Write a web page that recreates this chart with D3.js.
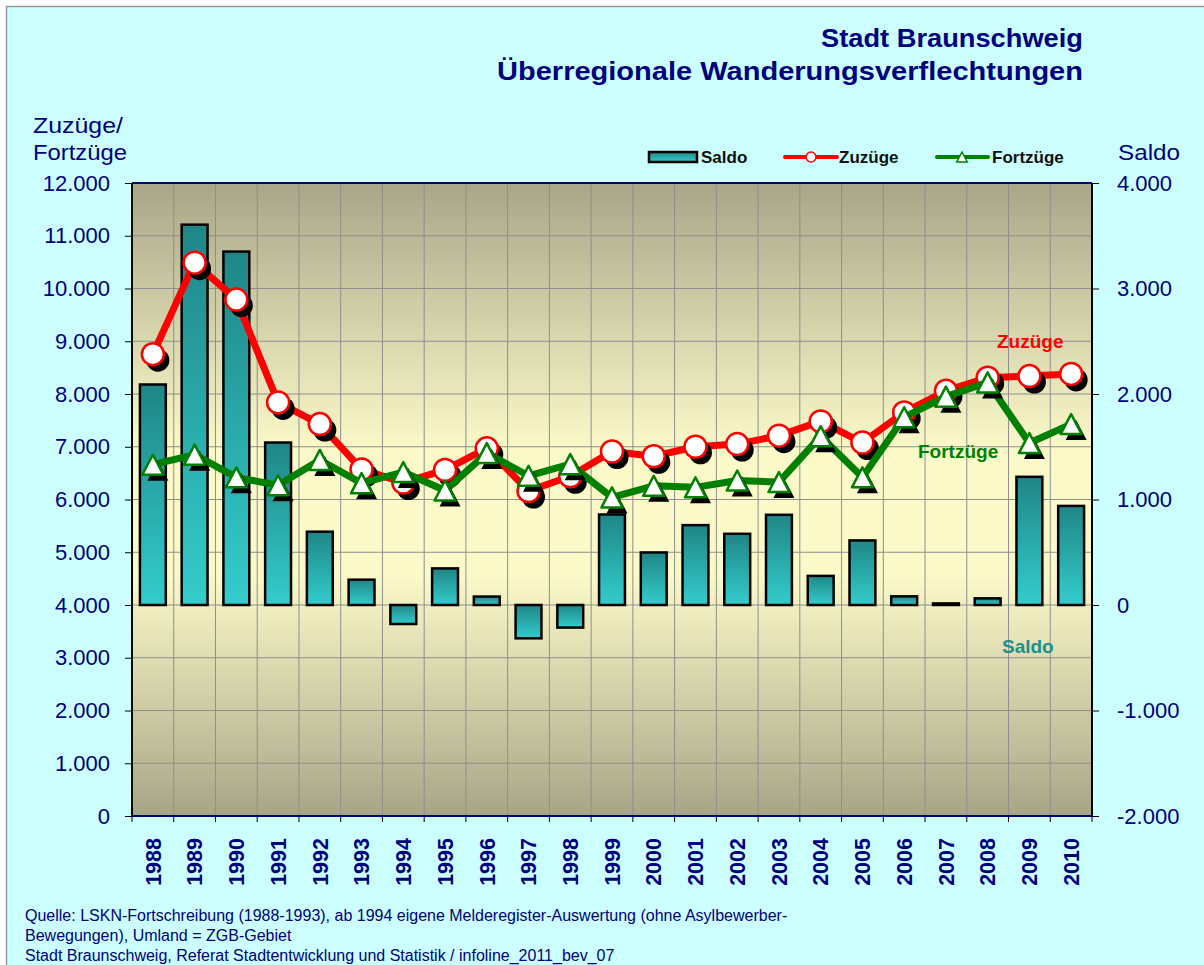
<!DOCTYPE html>
<html>
<head>
<meta charset="utf-8">
<script src="https://cdn.jsdelivr.net/npm/d3@7"></script>
<style>
  body { margin: 0; background: #fff; }
  svg { display: block; font-family: Arial, "Liberation Sans", sans-serif; }
</style>
</head>
<body>
<div id="chart"></div>
<script>
var years = ["1988", "1989", "1990", "1991", "1992", "1993", "1994", "1995", "1996", "1997", "1998", "1999",
    "2000", "2001", "2002", "2003", "2004", "2005", "2006", "2007", "2008", "2009", "2010"];
var zuzuege = [8755, 10490, 9790, 7840, 7430, 6570, 6320, 6560, 6970, 6160, 6440, 6910,
    6820, 7000, 7050, 7210, 7480, 7080, 7650, 8060, 8310, 8340, 8380];
var fortzuege = [6660, 6850, 6420, 6270, 6750, 6310, 6520, 6170, 6880, 6450, 6670, 6040,
    6260, 6230, 6360, 6330, 7200, 6420, 7560, 7950, 8220, 7070, 7430];
var saldo = [2090, 3605, 3350, 1540, 695, 240, -180, 347, 80, -316, -214, 858,
    498, 757, 675, 855, 276, 612, 82, 15, 63, 1215, 939];
var leftTicks = [0, 1000, 2000, 3000, 4000, 5000, 6000, 7000, 8000, 9000, 10000, 11000, 12000];
var rightTicks = [-2000, -1000, 0, 1000, 2000, 3000, 4000];

var W = 1204, H = 965,
    x0 = 132, x1 = 1092, y0 = 183, y1 = 816,
    navy = "#000080";

var de = d3.formatLocale({ decimal: ",", thousands: ".", grouping: [3], currency: ["", " €"], minus: "-" });
var fmt = de.format(",.0f");

var svg = d3.select("#chart").append("svg")
    .attr("width", W)
    .attr("height", H);

var defs = svg.append("defs");

var bg = defs.append("linearGradient").attr("id", "plotBg")
    .attr("x1", 0).attr("y1", 0).attr("x2", 0).attr("y2", 1);
bg.append("stop").attr("offset", "0%").attr("stop-color", "#a9a689");
bg.append("stop").attr("offset", "42%").attr("stop-color", "#fbf9c8");
bg.append("stop").attr("offset", "62%").attr("stop-color", "#fbf9c8");
bg.append("stop").attr("offset", "100%").attr("stop-color", "#a8a587");

var barGrad = defs.append("linearGradient").attr("id", "barGrad")
    .attr("x1", 0).attr("y1", 0).attr("x2", 0).attr("y2", 1);
barGrad.append("stop").attr("offset", "0%").attr("stop-color", "#1f8686");
barGrad.append("stop").attr("offset", "100%").attr("stop-color", "#34cccc");

// frame
svg.append("rect")
    .attr("x", 6.5).attr("y", 6.5)
    .attr("width", W).attr("height", H)
    .attr("fill", "#ccffff")
    .attr("stroke", "#9a9a9a")
    .attr("stroke-width", 1.5);

// scales
var x = d3.scaleBand()
    .domain(years)
    .range([x0, x1])
    .paddingInner(0.38)
    .paddingOuter(0.19);
var step = x.step();
var cx = function (d, i) { return x(years[i]) + x.bandwidth() / 2; };

var yL = d3.scaleLinear().domain([0, 12000]).range([y1, y0]);
var yR = d3.scaleLinear().domain([-2000, 4000]).range([y1, y0]);

// plot area
svg.append("rect")
    .attr("x", x0).attr("y", y0)
    .attr("width", x1 - x0).attr("height", y1 - y0)
    .attr("fill", "url(#plotBg)");

// grid
svg.append("g").selectAll("line")
    .data(leftTicks.slice(1, -1))
    .enter().append("line")
    .attr("x1", x0).attr("x2", x1)
    .attr("y1", function (d) { return yL(d); })
    .attr("y2", function (d) { return yL(d); })
    .attr("stroke", "#8e8e8e").attr("stroke-width", 1);

svg.append("g").selectAll("line")
    .data(d3.range(1, years.length))
    .enter().append("line")
    .attr("x1", function (i) { return x0 + i * step; })
    .attr("x2", function (i) { return x0 + i * step; })
    .attr("y1", y0).attr("y2", y1)
    .attr("stroke", "#8e8e8e").attr("stroke-width", 1);

// axes
var axL = svg.append("g")
    .attr("transform", "translate(" + x0 + ",0)")
    .call(d3.axisLeft(yL).tickValues(leftTicks).tickSize(7).tickPadding(15).tickFormat(fmt));
var axR = svg.append("g")
    .attr("transform", "translate(" + x1 + ",0)")
    .call(d3.axisRight(yR).tickValues(rightTicks).tickSize(7).tickPadding(18).tickFormat(fmt));
[axL, axR].forEach(function (ax) {
    ax.select(".domain").remove();
    ax.selectAll("line").attr("stroke", "#000");
    ax.selectAll("text")
        .attr("fill", navy)
        .attr("font-size", 22)
        .attr("font-family", "Arial, 'Liberation Sans', sans-serif");
});

var axB = svg.append("g")
    .attr("transform", "translate(0," + y1 + ")")
    .call(d3.axisBottom(x).tickSize(0).tickPadding(0));
axB.select(".domain").remove();
axB.selectAll("text")
    .attr("fill", navy)
    .attr("font-size", 21.5)
    .attr("font-weight", "bold")
    .attr("font-family", "Arial, 'Liberation Sans', sans-serif")
    .attr("text-anchor", "end")
    .attr("dy", "0.36em")
    .attr("transform", "translate(0,22) rotate(-90)");

svg.append("g").selectAll("line")
    .data(d3.range(0, years.length + 1))
    .enter().append("line")
    .attr("x1", function (i) { return x0 + i * step; })
    .attr("x2", function (i) { return x0 + i * step; })
    .attr("y1", y1).attr("y2", y1 + 6)
    .attr("stroke", "#000").attr("stroke-width", 1);

// plot border
svg.append("line").attr("x1", x0).attr("x2", x1).attr("y1", y0).attr("y2", y0)
    .attr("stroke", navy).attr("stroke-width", 2);
svg.append("line").attr("x1", x0).attr("x2", x1).attr("y1", y1).attr("y2", y1)
    .attr("stroke", navy).attr("stroke-width", 2);
svg.append("line").attr("x1", x0).attr("x2", x0).attr("y1", y0).attr("y2", y1)
    .attr("stroke", "#000").attr("stroke-width", 2);
svg.append("line").attr("x1", x1).attr("x2", x1).attr("y1", y0).attr("y2", y1)
    .attr("stroke", "#000").attr("stroke-width", 2);

// saldo bars
svg.append("g").selectAll("rect")
    .data(saldo)
    .enter().append("rect")
    .attr("x", function (d, i) { return x(years[i]); })
    .attr("width", x.bandwidth())
    .attr("y", function (d) { return Math.min(yR(d), yR(0)); })
    .attr("height", function (d) { return Math.max(Math.abs(yR(d) - yR(0)), 1); })
    .attr("fill", "url(#barGrad)")
    .attr("stroke", "#000")
    .attr("stroke-width", 2.5);

// lines with markers
var tri = function (s) {
    return "M0," + (-s) + "L" + (s * 1.05) + "," + s + "L" + (-s * 1.05) + "," + s + "Z";
};

function drawSeries(values, color, marker) {
    var line = d3.line()
        .x(function (d, i) { return cx(d, i); })
        .y(function (d) { return yL(d); });
    var g = svg.append("g");
    g.append("path")
        .datum(values)
        .attr("d", line)
        .attr("fill", "none")
        .attr("stroke", color)
        .attr("stroke-width", 7)
        .attr("stroke-linejoin", "round");

    var shadows = g.append("g").selectAll("path")
        .data(values).enter();
    var marks = g.append("g").selectAll("path")
        .data(values).enter();

    if (marker === "circle") {
        shadows.append("circle")
            .attr("cx", function (d, i) { return cx(d, i) + 5; })
            .attr("cy", function (d) { return yL(d) + 6; })
            .attr("r", 11.5)
            .attr("fill", "#000");
        marks.append("circle")
            .attr("cx", function (d, i) { return cx(d, i); })
            .attr("cy", function (d) { return yL(d); })
            .attr("r", 11)
            .attr("fill", "#fff")
            .attr("stroke", color)
            .attr("stroke-width", 2.5);
    } else {
        shadows.append("path")
            .attr("d", tri(10))
            .attr("transform", function (d, i) { return "translate(" + (cx(d, i) + 5) + "," + (yL(d) + 6) + ")"; })
            .attr("fill", "#000");
        marks.append("path")
            .attr("d", tri(10))
            .attr("transform", function (d, i) { return "translate(" + cx(d, i) + "," + yL(d) + ")"; })
            .attr("fill", "#fff")
            .attr("stroke", color)
            .attr("stroke-width", 2.5)
            .attr("stroke-linejoin", "round");
    }
}

drawSeries(zuzuege, "#ff0000", "circle");
drawSeries(fortzuege, "#008000", "triangle");

// inline labels
svg.append("text").attr("x", 997).attr("y", 348).text("Zuzüge")
    .attr("fill", "#ff0000").attr("font-weight", "bold").attr("font-size", 19);
svg.append("text").attr("x", 918).attr("y", 458).text("Fortzüge")
    .attr("fill", "#008000").attr("font-weight", "bold").attr("font-size", 19);
svg.append("text").attr("x", 1002).attr("y", 653).text("Saldo")
    .attr("fill", "#1c8f8f").attr("font-weight", "bold").attr("font-size", 19);

// titles
svg.append("text").attr("x", 1083).attr("y", 47).attr("text-anchor", "end")
    .text("Stadt Braunschweig")
    .attr("textLength", 262).attr("lengthAdjust", "spacingAndGlyphs")
    .attr("fill", navy).attr("font-weight", "bold").attr("font-size", 26);
svg.append("text").attr("x", 1083).attr("y", 80).attr("text-anchor", "end")
    .text("Überregionale Wanderungsverflechtungen")
    .attr("textLength", 586).attr("lengthAdjust", "spacingAndGlyphs")
    .attr("fill", navy).attr("font-weight", "bold").attr("font-size", 26);

// axis titles
svg.append("text").attr("x", 33).attr("y", 133).text("Zuzüge/")
    .attr("textLength", 90).attr("lengthAdjust", "spacingAndGlyphs")
    .attr("fill", navy).attr("font-size", 22);
svg.append("text").attr("x", 33).attr("y", 160).text("Fortzüge")
    .attr("textLength", 94).attr("lengthAdjust", "spacingAndGlyphs")
    .attr("fill", navy).attr("font-size", 22);
svg.append("text").attr("x", 1118).attr("y", 160).text("Saldo")
    .attr("textLength", 62).attr("lengthAdjust", "spacingAndGlyphs")
    .attr("fill", navy).attr("font-size", 22);

// legend
var leg = svg.append("g").attr("font-weight", "bold").attr("font-size", 17).attr("fill", "#111");
leg.append("rect").attr("x", 649).attr("y", 152).attr("width", 48).attr("height", 10)
    .attr("fill", "url(#barGrad)").attr("stroke", "#000").attr("stroke-width", 2.5);
leg.append("text").attr("x", 701).attr("y", 163).text("Saldo");
leg.append("line").attr("x1", 785).attr("x2", 837).attr("y1", 157).attr("y2", 157)
    .attr("stroke", "#ff0000").attr("stroke-width", 4).attr("stroke-linecap", "round");
leg.append("circle").attr("cx", 811).attr("cy", 157).attr("r", 5)
    .attr("fill", "#fff").attr("stroke", "#ff0000").attr("stroke-width", 1.5);
leg.append("text").attr("x", 839).attr("y", 163).text("Zuzüge");
leg.append("line").attr("x1", 937).attr("x2", 988).attr("y1", 157).attr("y2", 157)
    .attr("stroke", "#008000").attr("stroke-width", 4).attr("stroke-linecap", "round");
leg.append("path").attr("d", tri(5)).attr("transform", "translate(962,157)")
    .attr("fill", "#fff").attr("stroke", "#008000").attr("stroke-width", 1.5);
leg.append("text").attr("x", 992).attr("y", 163).text("Fortzüge");

// source notes
var notes = [
    "Quelle: LSKN-Fortschreibung (1988-1993), ab 1994 eigene Melderegister-Auswertung (ohne Asylbewerber-",
    "Bewegungen), Umland = ZGB-Gebiet",
    "Stadt Braunschweig, Referat Stadtentwicklung und Statistik / infoline_2011_bev_07"
];
svg.append("g").selectAll("text")
    .data(notes)
    .enter().append("text")
    .attr("x", 25)
    .attr("y", function (d, i) { return 921 + i * 20; })
    .text(function (d) { return d; })
    .attr("fill", navy)
    .attr("font-size", 16);
</script>
</body>
</html>
